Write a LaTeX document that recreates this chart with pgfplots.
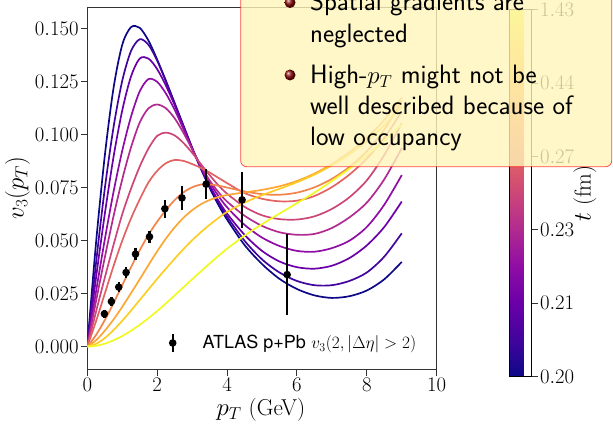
\documentclass[border=0pt]{standalone}
\usepackage{fontspec}
\usepackage{pgfplots}
\pgfplotsset{compat=1.18}
\newfontfamily\heros{TeX Gyre Heros}

% plasma samples at 0, 0.1, ..., 1
\definecolor{pl0}{RGB}{13,8,135}
\definecolor{pl1}{RGB}{65,4,157}
\definecolor{pl2}{RGB}{106,0,168}
\definecolor{pl3}{RGB}{143,13,164}
\definecolor{pl4}{RGB}{177,42,144}
\definecolor{pl5}{RGB}{204,71,120}
\definecolor{pl6}{RGB}{225,100,98}
\definecolor{pl7}{RGB}{242,132,75}
\definecolor{pl8}{RGB}{252,166,54}
\definecolor{pl9}{RGB}{252,206,37}
\definecolor{pl10}{RGB}{240,249,33}
\definecolor{blockfill}{RGB}{255,245,186}
\definecolor{bulletred}{RGB}{140,10,10}

\pgfplotsset{colormap={plasma}{rgb255=(13,8,135) rgb255=(65,4,157) rgb255=(106,0,168)
  rgb255=(143,13,164) rgb255=(177,42,144) rgb255=(204,71,120) rgb255=(225,100,98)
  rgb255=(242,132,75) rgb255=(252,166,54) rgb255=(252,206,37) rgb255=(240,249,33)}}

\pgfplotstableread{
x     y       e
0.49  0.0155  0.0020
0.69  0.0213  0.0020
0.90  0.0281  0.0024
1.11  0.0350  0.0028
1.38  0.0437  0.0028
1.78  0.0519  0.0028
2.22  0.0651  0.0042
2.71  0.0702  0.0058
3.40  0.0767  0.0070
4.43  0.0693  0.0132
5.72  0.0340  0.0193
}\atlas

\begin{document}
\begin{tikzpicture}
\useasboundingbox (0pt,0pt) rectangle (613pt,423pt);
\clip (0pt,0pt) rectangle (613pt,423pt);
\begin{axis}[
  at={(87.3pt,53.7pt)}, anchor=south west,
  scale only axis, width=349.4pt, height=362pt,
  xmin=0, xmax=10, ymin=-0.0107, ymax=0.1602,
  xtick={0,2,4,6,8,10},
  ytick={0,0.025,0.05,0.075,0.1,0.125,0.15},
  scaled y ticks=false,
  yticklabel style={/pgf/number format/fixed, /pgf/number format/fixed zerofill,
    /pgf/number format/precision=3, inner xsep=2pt},
  xticklabel style={inner ysep=2.5pt},
  tick pos=left, tick align=outside, major tick length=6.5pt,
  axis line style={black!80, line width=1.1pt},
  every tick/.style={black!80, line width=1.1pt},
  tick label style={font=\fontsize{20}{24}\selectfont},
  xlabel={$p_T$ (GeV)}, ylabel={$v_3(p_T)$},
  every axis x label/.style={at={(axis description cs:0.497,-0.112)}, anchor=center,
    font=\fontsize{23}{28}\selectfont},
  every axis y label/.style={at={(axis description cs:-0.2,0.5)}, rotate=90, anchor=center,
    font=\fontsize{23}{28}\selectfont},
  colormap name=plasma, colorbar, point meta min=0, point meta max=5,
  colorbar style={
    at={(parent axis.south east)}, anchor=south west, xshift=64.3pt, yshift=-7.3pt,
    scale only axis, width=22.3pt, height=366.7pt,
    ytick={0,1,2,3,4,5}, yticklabels={$0.20$,$0.21$,$0.23$,$0.27$,$0.44$,$1.43$},
    ytick pos=right, yticklabel pos=right, tick align=outside, major tick length=6pt,
    axis line style={black, line width=0.9pt},
    every tick/.style={black!80, line width=1pt},
    tick label style={font=\fontsize{20}{24}\selectfont},
    yticklabel style={inner xsep=2pt},
    ylabel={$t$ (fm)},
    every axis y label/.style={at={(axis description cs:3.38,0.5)}, rotate=90, anchor=center,
      font=\fontsize{23}{28}\selectfont},
  },
  legend style={at={(axis description cs:0.2187,0.0727)}, anchor=west, draw=none, fill=none,
    inner sep=0pt, outer sep=0pt, font=\fontsize{18}{22}\selectfont,
    nodes={inner sep=0pt}, column sep=21pt},
  legend cell align=left,
  every axis plot/.append style={line width=1.7pt},
]
% flow curves, one per time step (darkest = earliest)
\addplot[pl0, smooth, forget plot] coordinates {(0,0) (0.25,0.049) (0.5,0.090) (0.75,0.122) (1.0,0.1425) (1.25,0.1508) (1.5,0.1505) (1.75,0.1445) (2.0,0.1355) (2.25,0.1255) (2.5,0.1150) (2.75,0.1045) (3.0,0.0940) (3.25,0.0840) (3.5,0.0750) (3.75,0.0670) (4.0,0.0600) (4.5,0.0480) (5.0,0.0390) (5.5,0.0320) (6.0,0.0272) (6.5,0.0242) (7.0,0.0230) (7.5,0.0238) (8.0,0.0265) (8.5,0.0318) (9.0,0.0400)};
\addplot[pl1, smooth, forget plot] coordinates {(0,0) (0.25,0.0395) (0.5,0.0745) (0.75,0.1035) (1.0,0.1255) (1.25,0.1395) (1.5,0.1451) (1.75,0.1425) (2.0,0.1350) (2.25,0.1252) (2.5,0.1147) (2.75,0.1040) (3.0,0.0937) (3.25,0.0843) (3.5,0.0758) (3.75,0.0682) (4.0,0.0614) (4.5,0.0500) (5.0,0.0412) (5.5,0.0350) (6.0,0.0310) (6.5,0.0290) (7.0,0.0290) (7.5,0.0310) (8.0,0.0350) (8.5,0.0425) (9.0,0.0535)};
\addplot[pl2, smooth, forget plot] coordinates {(0,0) (0.25,0.0325) (0.5,0.0625) (0.75,0.0895) (1.0,0.1115) (1.25,0.1275) (1.5,0.1360) (1.75,0.1360) (2.0,0.1310) (2.25,0.1232) (2.5,0.1140) (2.75,0.1037) (3.0,0.0935) (3.25,0.0845) (3.5,0.0762) (3.75,0.0690) (4.0,0.0628) (4.5,0.0528) (5.0,0.0452) (5.5,0.0402) (6.0,0.0375) (6.5,0.0368) (7.0,0.0382) (7.5,0.0418) (8.0,0.0478) (8.5,0.0565) (9.0,0.0685)};
\addplot[pl3, smooth, forget plot] coordinates {(0,0) (0.25,0.0260) (0.5,0.0505) (0.75,0.0730) (1.0,0.0925) (1.25,0.1085) (1.5,0.1205) (1.75,0.1263) (2.0,0.1250) (2.25,0.1195) (2.5,0.1118) (2.75,0.1028) (3.0,0.0935) (3.25,0.0850) (3.5,0.0775) (3.75,0.0712) (4.0,0.0658) (4.5,0.0575) (5.0,0.0515) (5.5,0.0475) (6.0,0.0452) (6.5,0.0448) (7.0,0.0465) (7.5,0.0500) (8.0,0.0565) (8.5,0.0670) (9.0,0.0810)};
\addplot[pl4, smooth, forget plot] coordinates {(0,0) (0.25,0.0215) (0.5,0.0420) (0.75,0.0615) (1.0,0.0790) (1.25,0.0940) (1.5,0.1058) (1.75,0.1125) (2.0,0.1143) (2.25,0.1125) (2.5,0.1078) (2.75,0.1010) (3.0,0.0932) (3.25,0.0853) (3.5,0.0785) (3.75,0.0730) (4.0,0.0685) (4.5,0.0618) (5.0,0.0570) (5.5,0.0540) (6.0,0.0528) (6.5,0.0532) (7.0,0.0560) (7.5,0.0610) (8.0,0.0680) (8.5,0.0790) (9.0,0.0937)};
\addplot[pl5, smooth, forget plot] coordinates {(0,0) (0.25,0.0165) (0.5,0.0325) (0.75,0.0480) (1.0,0.0625) (1.25,0.0745) (1.5,0.0850) (1.75,0.0935) (2.0,0.0995) (2.25,0.1010) (2.5,0.0997) (2.75,0.0962) (3.0,0.0915) (3.25,0.0862) (3.5,0.0810) (3.75,0.0762) (4.0,0.0722) (4.5,0.0660) (5.0,0.0620) (5.5,0.0602) (6.0,0.0600) (6.5,0.0615) (7.0,0.0650) (7.5,0.0705) (8.0,0.0785) (8.5,0.0905) (9.0,0.1055)};
\addplot[pl6, smooth, forget plot] coordinates {(0,0) (0.25,0.0120) (0.5,0.0250) (0.75,0.0380) (1.0,0.0500) (1.25,0.0605) (1.5,0.0695) (1.75,0.0775) (2.0,0.0830) (2.25,0.0866) (2.5,0.0881) (2.75,0.0877) (3.0,0.0862) (3.25,0.0844) (3.5,0.0822) (3.75,0.0797) (4.0,0.0772) (4.5,0.0725) (5.0,0.0698) (5.5,0.0686) (6.0,0.0689) (6.5,0.0711) (7.0,0.0753) (7.5,0.0812) (8.0,0.0888) (8.5,0.0985) (9.0,0.1110)};
\addplot[pl7, smooth, forget plot] coordinates {(0,0) (0.25,0.0055) (0.5,0.0125) (0.75,0.0205) (1.0,0.0290) (1.25,0.0375) (1.5,0.0455) (1.75,0.0528) (2.0,0.0590) (2.25,0.0645) (2.5,0.0692) (2.75,0.0728) (3.0,0.0752) (3.25,0.0765) (3.5,0.0766) (3.75,0.0760) (4.0,0.0751) (4.5,0.0733) (5.0,0.0720) (5.5,0.0717) (6.0,0.0727) (6.5,0.0752) (7.0,0.0792) (7.5,0.0848) (8.0,0.0922) (8.5,0.1025) (9.0,0.1160)};
\addplot[pl8, smooth, forget plot] coordinates {(0,0) (0.25,0.0030) (0.5,0.0075) (0.75,0.0128) (1.0,0.0188) (1.25,0.0252) (1.5,0.0318) (1.75,0.0385) (2.0,0.0450) (2.25,0.0510) (2.5,0.0563) (2.75,0.0608) (3.0,0.0644) (3.25,0.0672) (3.5,0.0692) (3.75,0.0706) (4.0,0.0716) (4.5,0.0728) (5.0,0.0740) (5.5,0.0757) (6.0,0.0782) (6.5,0.0817) (7.0,0.0862) (7.5,0.0918) (8.0,0.0986) (8.5,0.1070) (9.0,0.1175)};
\addplot[pl9, smooth, forget plot] coordinates {(0,0) (0.25,0.0013) (0.5,0.0040) (0.75,0.0078) (1.0,0.0122) (1.25,0.0170) (1.5,0.0220) (1.75,0.0270) (2.0,0.0320) (2.25,0.0368) (2.5,0.0415) (2.75,0.0460) (3.0,0.0502) (3.25,0.0540) (3.5,0.0575) (3.75,0.0607) (4.0,0.0636) (4.5,0.0680) (5.0,0.0715) (5.5,0.0745) (6.0,0.0776) (6.5,0.0812) (7.0,0.0856) (7.5,0.0908) (8.0,0.0970) (8.5,0.1045) (9.0,0.1135)};
\addplot[pl10, smooth, forget plot] coordinates {(0,0) (0.25,0.0004) (0.5,0.0014) (0.75,0.0030) (1.0,0.0050) (1.25,0.0075) (1.5,0.0103) (1.75,0.0134) (2.0,0.0168) (2.25,0.0204) (2.5,0.0242) (2.75,0.0280) (3.0,0.0318) (3.25,0.0355) (3.5,0.0392) (3.75,0.0428) (4.0,0.0462) (4.5,0.0524) (5.0,0.0578) (5.5,0.0628) (6.0,0.0677) (6.5,0.0727) (7.0,0.0782) (7.5,0.0840) (8.0,0.0903) (8.5,0.0972) (9.0,0.1050)};
% measured points
\addplot[black, only marks, mark=*, mark size=2.9pt,
  error bars/.cd, y dir=both, y explicit, error mark=none,
  error bar style={line width=2.2pt, black},
  /pgfplots/legend image code/.code={
    \path[draw=none, fill=none] (0pt,0pt) -- (18pt,0pt);
    \draw[line width=2.2pt, black] (9pt,-9.2pt) -- (9pt,9.2pt);
    \fill[black] (9pt,0pt) circle (2.9pt);}
] table[x=x, y=y, y error=e] {\atlas};
\addlegendentry{{\heros ATLAS p+Pb} $v_3(2,|\Delta\eta|>2)$}
\end{axis}

% overlaid remark block
\fill[blockfill, fill opacity=0.8, rounded corners=6pt] (240.7pt,256.3pt) rectangle (611.7pt,470pt);
\draw[red, draw opacity=0.7, line width=0.8pt, rounded corners=6pt] (240.7pt,256.3pt) rectangle (611.7pt,470pt);
\shade[ball color=bulletred] (290pt,420.5pt) circle (5.5pt);
\shade[ball color=bulletred] (290pt,348pt) circle (5.5pt);
\begin{scope}[every node/.style={anchor=base west, inner sep=0pt, font=\sffamily\fontsize{26.6}{32}\selectfont}]
\node at (310pt,412.5pt) {Spatial gradients are};
\node at (310pt,380.5pt) {neglected};
\node at (310pt,339pt) {High-$p_T$ might not be};
\node at (310pt,308pt) {well described because of};
\node at (310pt,277pt) {low occupancy};
\end{scope}
\end{tikzpicture}
\end{document}
